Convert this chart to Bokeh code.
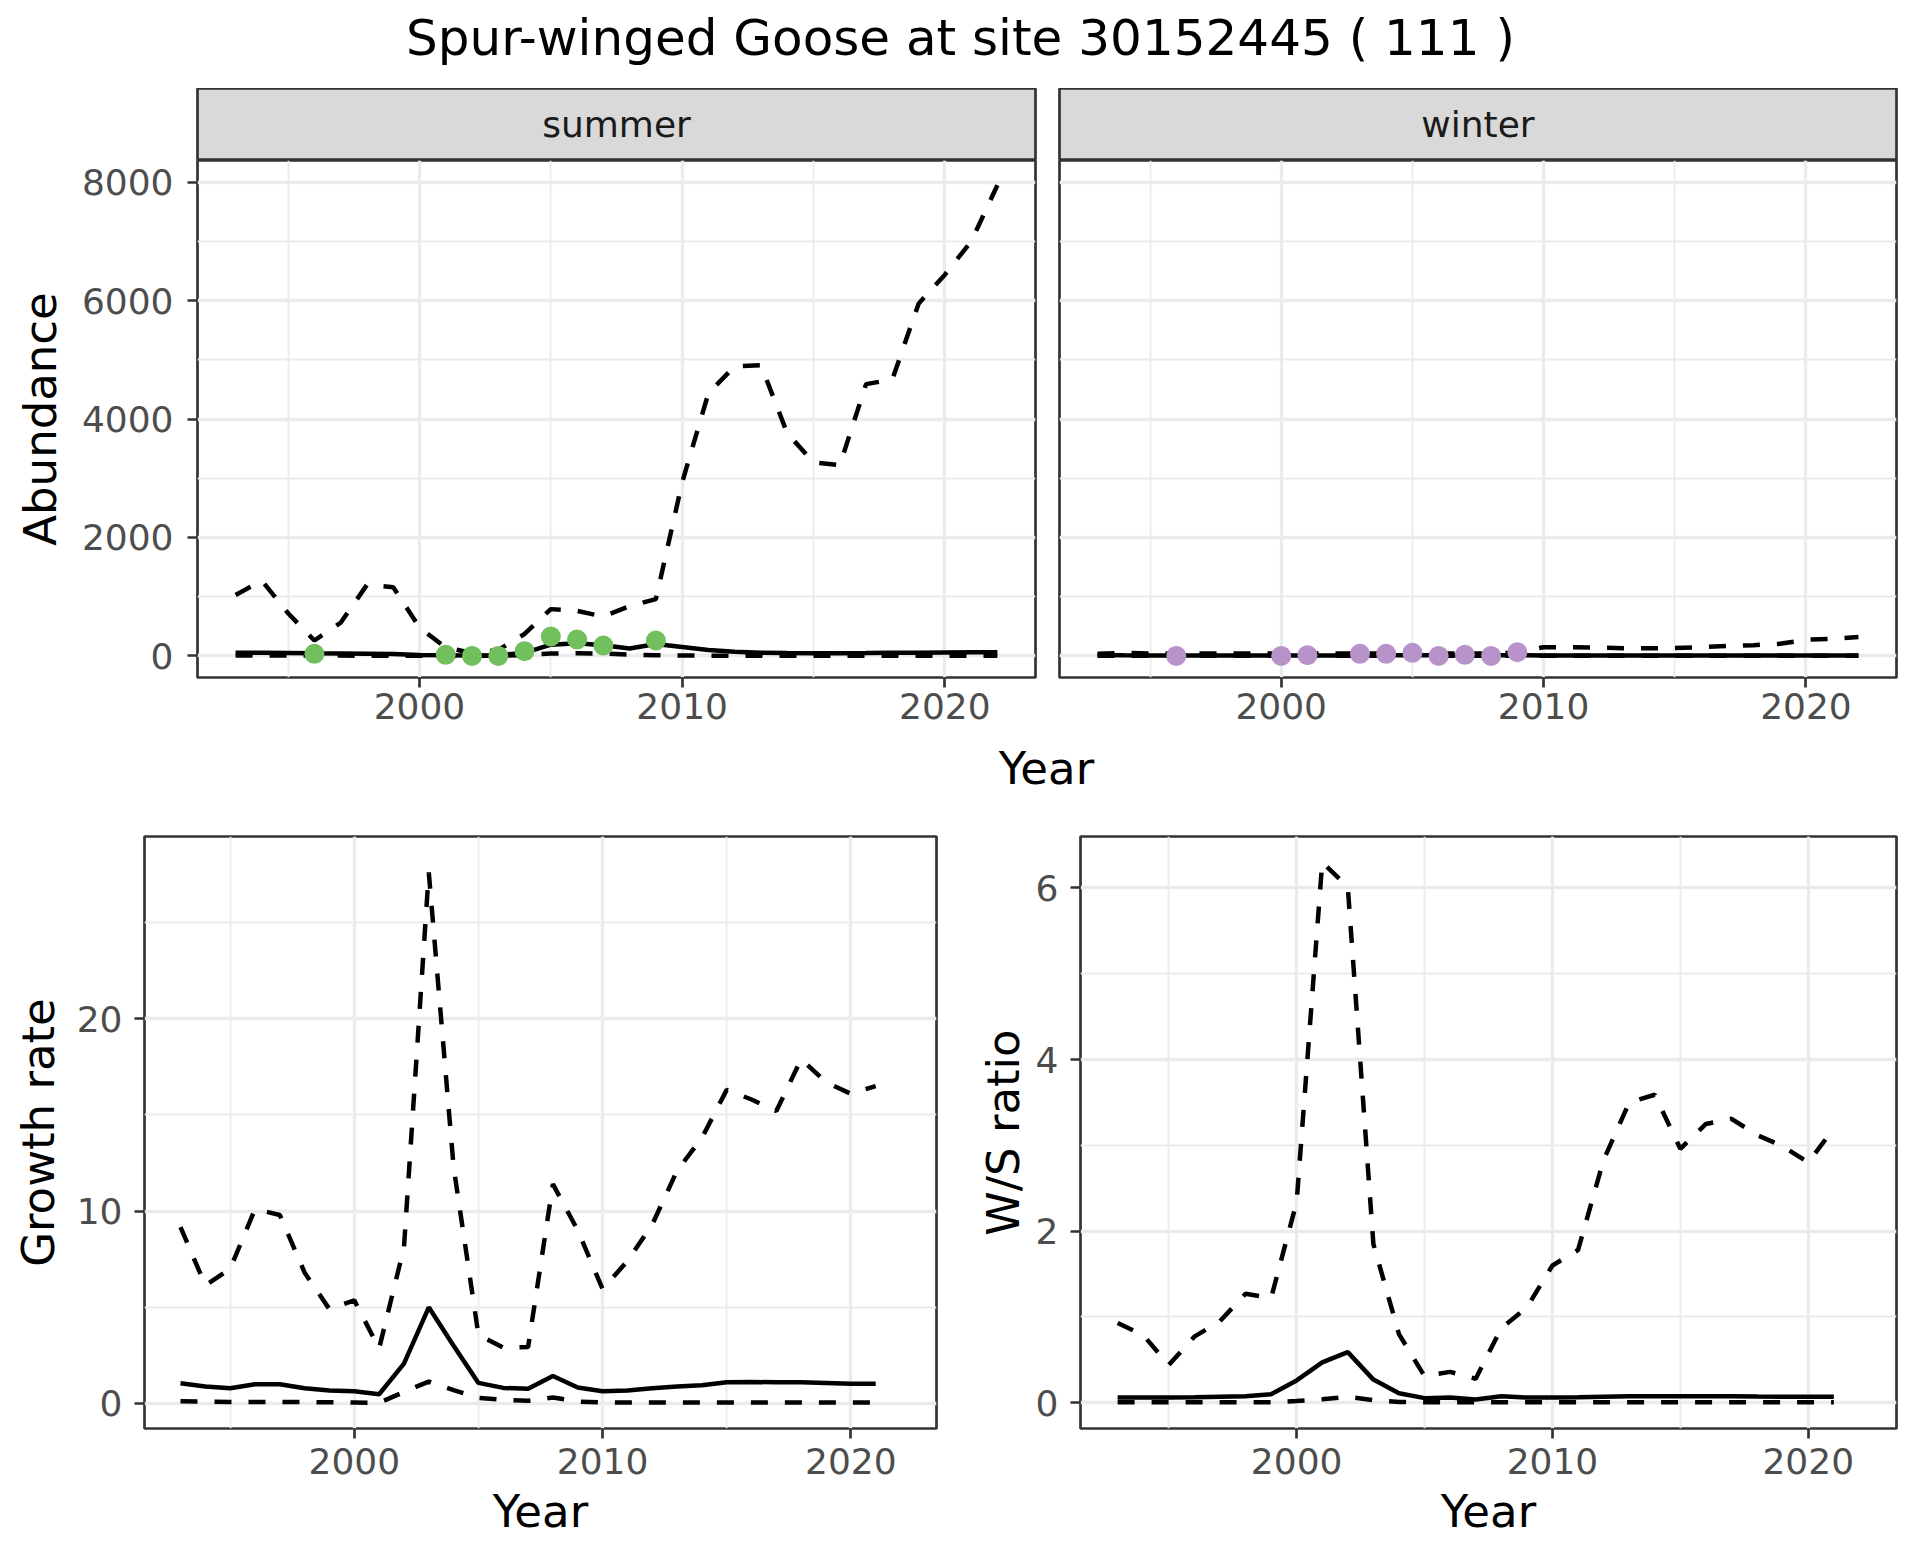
from bokeh.plotting import figure
from bokeh.models import Range1d, FixedTicker, Label
from bokeh.layouts import column, row
from bokeh.embed import file_html
from bokeh.resources import INLINE

FONT = "DejaVu Sans"

# ---------------- data ----------------
years = list(range(1993, 2023))

summer_fit = [55, 55, 50, 45, 42, 38, 30, 15, 10, 8, 12, 50, 190, 215, 180, 125, 200, 150,
              100, 70, 55, 48, 45, 45, 48, 52, 55, 58, 60, 60]
summer_hi = [1030, 1270, 720, 260, 560, 1200, 1160, 480, 140, 50, 100, 370, 790, 760, 665, 840,
             960, 2930, 4440, 4890, 4910, 3760, 3270, 3220, 4590, 4670, 5950, 6440, 7000, 7950]
summer_lo = [8, 8, 6, 5, 5, 4, 3, 1, 1, 1, 2, 15, 40, 45, 40, 22, 12, 6, 3, 2, 1, 1, 1, 1, 1,
             1, 1, 1, 1, 1]
summer_obs_years = [1996, 2001, 2002, 2003, 2004, 2005, 2006, 2007, 2009]
summer_obs = [35, 18, 0, 0, 80, 328, 277, 176, 260]

winter_fit = [15, 10, 8, 8, 8, 8, 8, 8, 8, 8, 8, 10, 12, 10, 10, 10, 10, 8, 8, 6, 6, 6, 6, 6,
              6, 6, 6, 6, 6, 6]
winter_hi = [35, 52, 40, 40, 40, 40, 40, 40, 40, 40, 40, 40, 40, 40, 40, 40, 60, 147, 147, 141,
             128, 128, 135, 147, 170, 181, 204, 272, 289, 318]
winter_lo = [1, 1, 1, 1, 1, 1, 1, 1, 1, 1, 1, 1, 1, 1, 1, 1, 1, 1, 1, 1, 1, 1, 1, 1, 1, 1, 1,
             1, 1, 1]
winter_obs_years = [1996, 2000, 2001, 2003, 2004, 2005, 2006, 2007, 2008, 2009]
winter_obs = [0, 0, 12, 35, 35, 52, 0, 18, 0, 63]

ratio_years = list(range(1993, 2022))

growth_fit = [1.05, 0.88, 0.79, 1.0, 1.0, 0.79, 0.67, 0.64, 0.48, 2.07, 5.0, 3.0, 1.07, 0.81,
              0.76, 1.43, 0.83, 0.64, 0.67, 0.79, 0.88, 0.95, 1.1, 1.12, 1.1, 1.1, 1.07, 1.02,
              1.02]
growth_hi = [9.17, 6.14, 7.0, 10.1, 9.8, 6.8, 4.9, 5.36, 2.86, 8.1, 27.6, 12.3, 3.57, 2.9, 2.93,
             11.4, 9.0, 5.95, 7.4, 9.3, 12.1, 13.8, 16.3, 15.8, 15.2, 17.9, 16.7, 16.1, 16.5]
growth_lo = [0.12, 0.1, 0.08, 0.08, 0.08, 0.07, 0.06, 0.05, 0.04, 0.6, 1.14, 0.7, 0.29, 0.19,
             0.14, 0.31, 0.1, 0.05, 0.05, 0.05, 0.05, 0.05, 0.05, 0.05, 0.05, 0.05, 0.05, 0.05,
             0.05]

ws_fit = [0.06, 0.06, 0.06, 0.064, 0.07, 0.075, 0.1, 0.26, 0.47, 0.59, 0.27, 0.11, 0.054, 0.06,
          0.037, 0.075, 0.06, 0.06, 0.064, 0.07, 0.075, 0.075, 0.075, 0.075, 0.075, 0.072,
          0.07, 0.07, 0.07]
ws_hi = [0.93, 0.79, 0.44, 0.77, 0.95, 1.27, 1.22, 2.34, 6.3, 6.01, 1.85, 0.8, 0.31, 0.36, 0.28,
         0.87, 1.11, 1.6, 1.78, 2.83, 3.5, 3.59, 2.96, 3.25, 3.31, 3.12, 2.99, 2.8, 3.2]
ws_lo = [0.005, 0.005, 0.005, 0.005, 0.005, 0.005, 0.005, 0.02, 0.04, 0.07, 0.03, 0.01, 0.005,
         0.005, 0.005, 0.005, 0.005, 0.005, 0.005, 0.005, 0.005, 0.005, 0.005, 0.005, 0.005,
         0.005, 0.005, 0.005, 0.005]

x_major = [2000, 2010, 2020]
x_minor = [1995, 2005, 2015]
abund_major = [0, 2000, 4000, 6000, 8000]
abund_minor = [1000, 3000, 5000, 7000]
growth_major = [0, 10, 20]
growth_minor = [5, 15, 25]
ws_major = [0, 2, 4, 6]
ws_minor = [1, 3, 5]

GREEN = "#72BF5E"
PURPLE = "#B793C9"
GRID = "#EBEBEB"
DARK = "#333333"
DASH = "17 17"
LW = 4.5
TICK_FS = "36px"
LAB_FS = "45px"


def blank(width, height):
    p = figure(width=width, height=height, toolbar_location=None, output_backend="svg",
               x_axis_location=None, y_axis_location=None,
               x_range=Range1d(0, width), y_range=Range1d(0, height),
               min_border_left=0, min_border_right=0, min_border_top=0, min_border_bottom=0,
               outline_line_color=None)
    p.grid.visible = False
    return p


def strip(label, width, left, right):
    s = figure(width=width, height=72, toolbar_location=None, output_backend="svg",
               x_axis_location=None, y_axis_location=None,
               x_range=Range1d(0, 1), y_range=Range1d(0, 1),
               min_border_left=left, min_border_right=right, min_border_top=0,
               min_border_bottom=0)
    s.grid.visible = False
    s.background_fill_color = "#D9D9D9"
    s.outline_line_color = DARK
    s.outline_line_width = 2.7
    s.add_layout(Label(x=0.5, y=0.5, text=label, text_align="center", text_baseline="middle",
                       text_font=FONT, text_font_size=TICK_FS, text_color="#1A1A1A"))
    return s


def panel(width, height, left, right, top, bottom, yr, ymaj, ymin, show_y=True,
          xlabel=None, ylabel=None, x_std=8, x_lab_std=8, y_std=12, y_lab_std=12):
    p = figure(width=width, height=height, toolbar_location=None, output_backend="svg",
               x_range=Range1d(1991.55, 2023.45), y_range=yr,
               min_border_left=left, min_border_right=right, min_border_top=top,
               min_border_bottom=bottom)
    p.background_fill_color = "white"
    p.outline_line_color = DARK
    p.outline_line_width = 2.7
    xt = FixedTicker(ticks=x_major, minor_ticks=x_minor)
    yt = FixedTicker(ticks=ymaj, minor_ticks=ymin)
    p.xaxis.ticker = xt
    p.yaxis.ticker = yt
    p.xgrid.ticker = xt
    p.ygrid.ticker = yt
    for g in (p.xgrid, p.ygrid):
        g.grid_line_color = GRID
        g.grid_line_width = 3.3
        g.minor_grid_line_color = GRID
        g.minor_grid_line_width = 1.8
    for ax in (p.xaxis, p.yaxis):
        ax.axis_line_color = None
        ax.major_tick_line_color = DARK
        ax.major_tick_line_width = 2.7
        ax.major_tick_out = 10
        ax.major_tick_in = 0
        ax.minor_tick_line_color = None
        ax.major_label_text_font = FONT
        ax.major_label_text_font_size = TICK_FS
        ax.major_label_text_color = "#4D4D4D"
        ax.axis_label_text_font = FONT
        ax.axis_label_text_font_size = LAB_FS
        ax.axis_label_text_font_style = "normal"
        ax.axis_label_text_color = "black"
    p.xaxis.major_label_standoff = x_std
    p.yaxis.major_label_standoff = y_std
    p.xaxis.axis_label_standoff = x_lab_std
    p.yaxis.axis_label_standoff = y_lab_std
    if xlabel:
        p.xaxis.axis_label = xlabel
    if ylabel:
        p.yaxis.axis_label = ylabel
    if not show_y:
        p.yaxis.visible = False
    return p


def draw(p, xs, fit, hi, lo, obs_x=None, obs_y=None, color=None):
    p.line(xs, hi, line_color="black", line_width=LW, line_dash=DASH)
    p.line(xs, lo, line_color="black", line_width=LW, line_dash=DASH)
    p.line(xs, fit, line_color="black", line_width=LW)
    if obs_x is not None:
        p.scatter(obs_x, obs_y, size=20, fill_color=color, line_color=None)


# ---------------- title ----------------
title_fig = blank(1920, 88)
title_fig.add_layout(Label(x=960, y=51, text="Spur-winged Goose at site 30152445 ( 111 )",
                           text_align="center", text_baseline="middle", text_font=FONT,
                           text_font_size="50px", text_color="black"))

# ---------------- top row ----------------
strip_s = strip("summer", 1051, 197, 16)
strip_w = strip("winter", 869, 8, 24)

p_s = panel(1051, 580, 197, 16, 0, 63, Range1d(-365, 8368), abund_major, abund_minor,
            ylabel="Abundance", x_std=5, y_std=14, y_lab_std=12)
draw(p_s, years, summer_fit, summer_hi, summer_lo, summer_obs_years, summer_obs, GREEN)

p_w = panel(869, 580, 8, 24, 0, 63, Range1d(-365, 8368), abund_major, abund_minor,
            show_y=False, x_std=5)
draw(p_w, years, winter_fit, winter_hi, winter_lo, winter_obs_years, winter_obs, PURPLE)

year_fig = blank(1920, 60)
year_fig.add_layout(Label(x=1046, y=32, text="Year", text_align="center",
                          text_baseline="middle", text_font=FONT, text_font_size=LAB_FS,
                          text_color="black"))

# ---------------- bottom row ----------------
p_g = panel(968, 760, 144, 32, 36, 132, Range1d(-1.3, 29.47), growth_major, growth_minor,
            xlabel="Year", ylabel="Growth rate", x_std=9, x_lab_std=8, y_std=12,
            y_lab_std=9)
draw(p_g, ratio_years, growth_fit, growth_hi, growth_lo)

p_r = panel(952, 760, 112, 24, 36, 132, Range1d(-0.3, 6.6), ws_major, ws_minor,
            xlabel="Year", ylabel="W/S ratio", x_std=9, x_lab_std=8, y_std=12,
            y_lab_std=3)
draw(p_r, ratio_years, ws_fit, ws_hi, ws_lo)

layout = column(title_fig, row(strip_s, strip_w), row(p_s, p_w), year_fig, row(p_g, p_r))

open("out.html", "w").write(file_html(layout, INLINE))
